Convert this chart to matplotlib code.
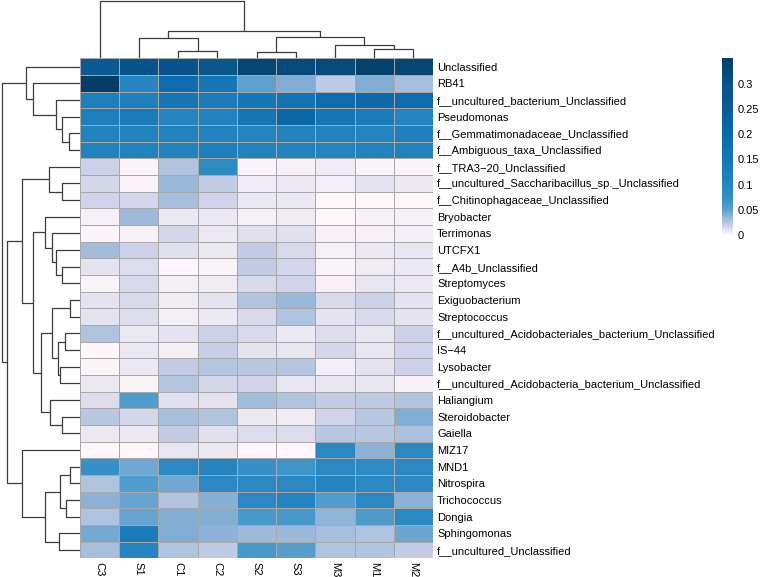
import numpy as np
import matplotlib
matplotlib.use("Agg")
import matplotlib.pyplot as plt
from matplotlib.colors import LinearSegmentedColormap, Normalize

plt.rcParams["font.family"] = ["Liberation Sans", "DejaVu Sans"]

# samples in the clustered (display) order
samples = ["C3", "S1", "C1", "C2", "S2", "S3", "M3", "M1", "M2"]

taxa = [
    "Unclassified", "RB41", "f__uncultured_bacterium_Unclassified", "Pseudomonas",
    "f__Gemmatimonadaceae_Unclassified", "f__Ambiguous_taxa_Unclassified",
    "f__TRA3\u221220_Unclassified", "f__uncultured_Saccharibacillus_sp._Unclassified",
    "f__Chitinophagaceae_Unclassified", "Bryobacter", "Terrimonas", "UTCFX1",
    "f__A4b_Unclassified", "Streptomyces", "Exiguobacterium", "Streptococcus",
    "f__uncultured_Acidobacteriales_bacterium_Unclassified", "IS\u221244", "Lysobacter",
    "f__uncultured_Acidobacteria_bacterium_Unclassified", "Haliangium", "Steroidobacter",
    "Gaiella", "MIZ17", "MND1", "Nitrospira", "Trichococcus", "Dongia", "Sphingomonas",
    "f__uncultured_Unclassified",
]

# relative abundance, one row per taxon, columns follow `samples`
abundance = np.array([
    [0.27, 0.30, 0.30, 0.29, 0.33, 0.32, 0.32, 0.34, 0.33],
    [0.35, 0.10, 0.19, 0.15, 0.05, 0.040, 0.022, 0.040, 0.030],
    [0.12, 0.12, 0.15, 0.135, 0.145, 0.16, 0.19, 0.20, 0.19],
    [0.12, 0.135, 0.10, 0.11, 0.15, 0.21, 0.15, 0.135, 0.105],
    [0.11, 0.11, 0.11, 0.11, 0.105, 0.11, 0.11, 0.105, 0.12],
    [0.11, 0.11, 0.11, 0.12, 0.11, 0.11, 0.105, 0.11, 0.11],
    [0.019, 0.002, 0.027, 0.085, 0.002, 0.003, 0.006, 0.002, 0.002],
    [0.016, 0.002, 0.034, 0.021, 0.006, 0.007, 0.005, 0.010, 0.008],
    [0.017, 0.016, 0.029, 0.017, 0.007, 0.008, 0.001, 0.001, 0.001],
    [0.003, 0.032, 0.007, 0.008, 0.004, 0.006, 0.001, 0.003, 0.003],
    [0.002, 0.003, 0.016, 0.008, 0.011, 0.012, 0.004, 0.004, 0.005],
    [0.031, 0.019, 0.011, 0.007, 0.021, 0.015, 0.004, 0.007, 0.009],
    [0.010, 0.013, 0.001, 0.002, 0.021, 0.016, 0.002, 0.006, 0.007],
    [0.002, 0.015, 0.005, 0.006, 0.014, 0.017, 0.004, 0.009, 0.007],
    [0.010, 0.015, 0.006, 0.010, 0.027, 0.033, 0.014, 0.019, 0.010],
    [0.010, 0.013, 0.005, 0.007, 0.015, 0.027, 0.010, 0.015, 0.010],
    [0.026, 0.008, 0.010, 0.018, 0.014, 0.007, 0.013, 0.009, 0.019],
    [0.001, 0.007, 0.005, 0.020, 0.010, 0.009, 0.016, 0.009, 0.017],
    [0.002, 0.008, 0.021, 0.025, 0.024, 0.025, 0.005, 0.010, 0.019],
    [0.008, 0.002, 0.025, 0.016, 0.017, 0.009, 0.009, 0.009, 0.004],
    [0.013, 0.056, 0.012, 0.010, 0.031, 0.026, 0.021, 0.022, 0.027],
    [0.024, 0.016, 0.029, 0.026, 0.008, 0.006, 0.017, 0.024, 0.040],
    [0.007, 0.008, 0.021, 0.012, 0.013, 0.013, 0.024, 0.024, 0.028],
    [0.000, 0.000, 0.009, 0.008, 0.000, 0.000, 0.090, 0.038, 0.090],
    [0.075, 0.045, 0.090, 0.100, 0.075, 0.066, 0.090, 0.085, 0.090],
    [0.026, 0.056, 0.045, 0.090, 0.090, 0.090, 0.100, 0.090, 0.090],
    [0.037, 0.047, 0.027, 0.039, 0.090, 0.105, 0.055, 0.090, 0.037],
    [0.026, 0.047, 0.041, 0.040, 0.060, 0.060, 0.036, 0.057, 0.090],
    [0.043, 0.130, 0.041, 0.037, 0.032, 0.034, 0.029, 0.027, 0.046],
    [0.029, 0.100, 0.026, 0.022, 0.060, 0.052, 0.027, 0.026, 0.021],
])

# hierarchical clustering merges: (child a, child b, height); ids < n are leaves
col_merges = [
    (4, 5, 6.3), (2, 3, 7.3), (7, 8, 9.0), (6, 11, 13.0),
    (1, 10, 20.3), (9, 12, 21.3), (13, 14, 27.3), (0, 15, 57.3),
]
row_merges = [
    (4, 5, 11), (3, 30, 18.3), (2, 31, 24), (1, 32, 46.7), (0, 33, 54),
    (7, 8, 18.3), (6, 35, 31),
    (12, 13, 17.7), (11, 37, 24), (10, 38, 28.3), (9, 39, 35),
    (14, 15, 10), (16, 17, 15), (18, 19, 20), (42, 43, 21.7), (41, 44, 27.7),
    (21, 22, 17.7), (20, 46, 30), (45, 47, 39), (40, 48, 46.7), (36, 49, 58.3),
    (24, 25, 10), (26, 27, 14.3), (51, 52, 20), (28, 29, 21), (53, 54, 35),
    (23, 55, 58.3), (50, 56, 73.3), (34, 57, 78.3),
]

cbar_ticks = [0, 0.05, 0.1, 0.15, 0.2, 0.25, 0.3]
cbar_labels = ["0", "0.05", "0.1", "0.15", "0.2", "0.25", "0.3"]

# colour ramp (value, colour)
vmax = 0.35
stops = [
    (0.000, "#FDF5F9"), (0.005, "#F2EDF5"), (0.010, "#E3E2EF"), (0.015, "#D4D6EA"),
    (0.020, "#C6CDE6"), (0.025, "#B3C5E0"), (0.030, "#A3BCDB"), (0.035, "#94B6D9"),
    (0.040, "#80ADD4"), (0.045, "#6CA6D0"), (0.050, "#5AA0CD"), (0.060, "#4697CA"),
    (0.075, "#358FC6"), (0.090, "#2A88C2"), (0.110, "#2282BE"), (0.150, "#1676B5"),
    (0.190, "#0C6CAD"), (0.250, "#0A5E97"), (0.300, "#07548A"), (0.350, "#053D66"),
]
cmap = LinearSegmentedColormap.from_list("ramp", [(v / vmax, c) for v, c in stops])
norm = Normalize(0, vmax)

W, H = 763, 577
fig = plt.figure(figsize=(W / 100, H / 100), dpi=100)


def box(x0, y0, x1, y1):
    return [x0 / W, 1 - y1 / H, (x1 - x0) / W, (y1 - y0) / H]


def draw_tree(ax, merges, n, side):
    pos = {i: i + 0.5 for i in range(n)}
    hgt = {i: 0.0 for i in range(n)}
    for k, (a, b, h) in enumerate(merges):
        p = [pos[a], pos[a], pos[b], pos[b]]
        q = [hgt[a], h, h, hgt[b]]
        if side == "top":
            ax.plot(p, q, color="#3c3c3c", lw=0.9, solid_capstyle="butt")
        else:
            ax.plot(q, p, color="#3c3c3c", lw=0.9, solid_capstyle="butt")
        pos[n + k] = (pos[a] + pos[b]) / 2
        hgt[n + k] = h
    ax.axis("off")


nrow, ncol = abundance.shape
hm_l, hm_t, hm_r, hm_b = 80, 58.3, 433, 558.3

ax = fig.add_axes(box(hm_l, hm_t, hm_r, hm_b))
mesh = ax.pcolormesh(abundance, cmap=cmap, norm=norm, edgecolors="#a8a8a8", linewidth=0.5)
ax.set_xlim(0, ncol)
ax.set_ylim(nrow, 0)
ax.set_xticks(np.arange(ncol) + 0.5)
ax.set_xticklabels(samples, rotation=270, fontsize=8)
ax.set_yticks(np.arange(nrow) + 0.5)
ax.set_yticklabels(taxa, fontsize=8)
ax.yaxis.tick_right()
ax.tick_params(length=0, pad=3)
for s in ax.spines.values():
    s.set_visible(False)

axc = fig.add_axes(box(hm_l, 0, hm_r, hm_t))
draw_tree(axc, col_merges, ncol, "top")
axc.set_xlim(0, ncol)
axc.set_ylim(0, 58)

axr = fig.add_axes(box(0, hm_t, hm_l, hm_b))
draw_tree(axr, row_merges, nrow, "left")
axr.set_xlim(80, 0)
axr.set_ylim(nrow, 0)

cax = fig.add_axes(box(722, 58.3, 733, 235))
cb = fig.colorbar(mesh, cax=cax, ticks=cbar_ticks)
cb.ax.set_yticklabels(cbar_labels)
cb.ax.tick_params(length=0, pad=3, labelsize=8)
cb.outline.set_visible(False)

fig.savefig("out.png", dpi=100)
